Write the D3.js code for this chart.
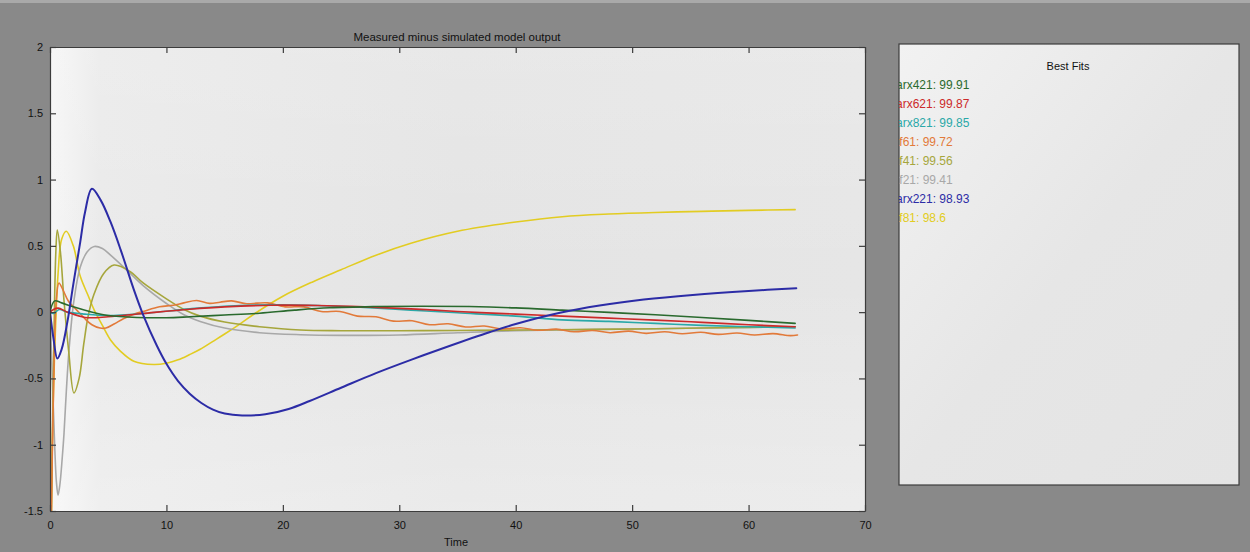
<!DOCTYPE html>
<html>
<head>
<meta charset="utf-8">
<script src="https://cdn.jsdelivr.net/npm/d3@7"></script>
<style>
  html, body { margin: 0; padding: 0; background: #8a8a8a; }
  svg { display: block; }
  text { font-family: "Liberation Sans", Arial, Helvetica, sans-serif; }
</style>
</head>
<body>
<svg id="chart" width="1250" height="552"></svg>
<script>
// ---- axis ticks ----
const xTicks = [0, 10, 20, 30, 40, 50, 60, 70];
const yTicks = [-1.5, -1, -0.5, 0, 0.5, 1, 1.5, 2];

// ---- model names and fit percentages (legend order) ----
const modelNames = ["arx421", "arx621", "arx821", "tf61", "tf41", "tf21", "arx221", "tf81"];
const fitValues  = [99.91, 99.87, 99.85, 99.72, 99.56, 99.41, 98.93, 98.6];
const modelColors = ["#2a6a2e", "#cc2a2a", "#2aa8a8", "#e27a3a", "#a6a63c", "#a8a8a8", "#2c2ca6", "#e2cc22"];

// ---- residual traces: time and value per model ----
const tArx421 = [0, 0.4, 1, 2, 3.4, 5, 7.5, 10, 12, 15, 18, 21, 24, 28, 32, 36, 40, 44, 48, 52, 56, 60, 64];
const vArx421 = [0, 0.085, 0.07, 0.04, 0.005, -0.025, -0.04, -0.042, -0.035, -0.022, -0.008, 0.015, 0.033, 0.042, 0.045, 0.042, 0.032, 0.015, -0.002, -0.02, -0.04, -0.062, -0.085];

const tArx621 = [0, 0.3, 0.7, 1.5, 3, 5, 8, 12, 15, 19, 23, 27, 31, 35, 40, 44, 48, 52, 56, 60, 64];
const vArx621 = [0, 0.02, 0.03, 0.0, -0.04, -0.035, -0.01, 0.022, 0.04, 0.052, 0.05, 0.04, 0.025, 0.005, -0.015, -0.03, -0.045, -0.06, -0.077, -0.095, -0.11];

const tArx821 = [0, 0.3, 0.8, 1.5, 3, 5, 8, 12, 15, 19, 23, 27, 31, 35, 40, 44, 48, 52, 56, 60, 64];
const vArx821 = [0, -0.01, 0.02, 0.0, -0.015, -0.025, -0.01, 0.025, 0.045, 0.055, 0.05, 0.035, 0.015, -0.005, -0.03, -0.058, -0.07, -0.085, -0.1, -0.11, -0.12];

const tTf61 = [0.12, 0.3, 0.55, 0.77, 1.1, 1.6, 2.3, 3, 3.6, 4.3, 4.8, 5.5, 6.3, 7.2, 8, 9.4, 10.6, 11.5, 12.6, 13.7, 14.6, 15.6, 16.9, 17.8, 18.7, 20.2, 21.8, 23.3, 24.9, 26.4, 28, 29.5, 31.1, 32.6, 34.2, 35.7, 37.3, 38.8, 40.4, 41.9, 43.5, 45, 46.6, 48.1, 49.7, 51.2, 52.8, 54.3, 55.9, 57.4, 59, 60.5, 62.1, 63.6, 64.2];
const vTf61 = [-1.5, -0.6, 0.1, 0.22, 0.17, 0.08, 0.015, -0.05, -0.095, -0.12, -0.12, -0.09, -0.05, -0.015, 0.005, 0.04, 0.052, 0.07, 0.088, 0.066, 0.075, 0.085, 0.063, 0.068, 0.07, 0.04, 0.04, 0.005, 0.005, -0.03, -0.035, -0.068, -0.065, -0.095, -0.088, -0.112, -0.105, -0.127, -0.118, -0.137, -0.128, -0.148, -0.138, -0.155, -0.143, -0.16, -0.148, -0.163, -0.152, -0.168, -0.157, -0.172, -0.162, -0.177, -0.172];

const tTf41 = [0.12, 0.3, 0.5, 0.63, 0.9, 1.2, 1.6, 2.06, 2.5, 2.9, 3.3, 3.8, 4.6, 5.5, 6.9, 8, 10, 11.5, 12.9, 15, 18, 21.5, 25, 30, 35, 40, 47, 52, 56, 60, 64];
const vTf41 = [-1.5, -0.4, 0.45, 0.62, 0.45, 0.09, -0.29, -0.61, -0.5, -0.24, -0.02, 0.14, 0.29, 0.355, 0.305, 0.22, 0.1, 0.02, -0.03, -0.075, -0.11, -0.135, -0.14, -0.14, -0.138, -0.135, -0.13, -0.125, -0.12, -0.115, -0.11];

const tTf21 = [0, 0.2, 0.4, 0.55, 0.69, 0.85, 1.05, 1.2, 1.4, 1.63, 2.06, 2.6, 3.2, 3.8, 4.5, 5.2, 6.6, 8, 10, 11.5, 12.9, 15, 18, 21.5, 25, 30, 35, 40, 47, 52, 56, 60, 64];
const vTf21 = [0, -0.5, -1.0, -1.28, -1.38, -1.3, -1.1, -0.92, -0.6, -0.29, 0.09, 0.34, 0.455, 0.495, 0.48, 0.43, 0.317, 0.2, 0.065, -0.02, -0.07, -0.12, -0.155, -0.17, -0.175, -0.172, -0.155, -0.14, -0.13, -0.125, -0.12, -0.115, -0.11];

const tArx221 = [0, 0.3, 0.63, 1.0, 1.5, 2, 2.6, 3.0, 3.6, 4.35, 5.2, 6.07, 7.2, 8, 9.16, 10, 11, 12, 13, 14, 15, 16.5, 18.5, 20.5, 22.3, 25, 28, 31, 34, 37.8, 40, 43.8, 47.2, 51, 55.2, 60, 64.1];
const vArx221 = [0, -0.2, -0.35, -0.28, -0.07, 0.21, 0.53, 0.75, 0.93, 0.845, 0.68, 0.47, 0.17, -0.02, -0.25, -0.39, -0.52, -0.615, -0.685, -0.735, -0.765, -0.78, -0.77, -0.73, -0.67, -0.57, -0.46, -0.36, -0.265, -0.15, -0.09, -0.005, 0.05, 0.095, 0.13, 0.16, 0.18];

const tTf81 = [0.12, 0.3, 0.7, 1.0, 1.4, 2, 2.6, 3.3, 3.8, 4.5, 5.2, 6, 7.2, 8.9, 10, 11, 12, 12.9, 14, 15, 16.3, 17.6, 20, 22.6, 25, 28, 31, 35, 40, 44, 48, 52, 56, 60, 64];
const vTf81 = [-1.5, -0.6, 0.3, 0.55, 0.61, 0.5, 0.27, 0.12, 0.015, -0.1, -0.21, -0.29, -0.37, -0.395, -0.385, -0.36, -0.32, -0.28, -0.22, -0.165, -0.09, -0.01, 0.12, 0.23, 0.32, 0.43, 0.52, 0.61, 0.68, 0.72, 0.74, 0.752, 0.76, 0.768, 0.773];

const seriesTimes  = [tArx421, tArx621, tArx821, tTf61, tTf41, tTf21, tArx221, tTf81];
const seriesValues = [vArx421, vArx621, vArx821, vTf61, vTf41, vTf21, vArx221, vTf81];

// ---- layout ----
const plot = { left: 50, right: 865, top: 47, bottom: 511 };
const panel = { left: 899, right: 1239, top: 44, bottom: 485 };

const svg = d3.select("#chart");
const defs = svg.append("defs");

// soft lighting across the plot and legend panels
const gH = defs.append("linearGradient").attr("id", "plotFill").attr("x1", 0).attr("x2", 1).attr("y1", 0).attr("y2", 0);
gH.append("stop").attr("offset", "0").attr("stop-color", "#f6f6f6");
gH.append("stop").attr("offset", "0.06").attr("stop-color", "#eaeaea");
gH.append("stop").attr("offset", "0.5").attr("stop-color", "#e4e4e4");
gH.append("stop").attr("offset", "1").attr("stop-color", "#e6e6e6");

const gV = defs.append("linearGradient").attr("id", "plotShade").attr("x1", 0).attr("x2", 0).attr("y1", 0).attr("y2", 1);
gV.append("stop").attr("offset", "0").attr("stop-color", "#ffffff").attr("stop-opacity", 0.15);
gV.append("stop").attr("offset", "0.5").attr("stop-color", "#ffffff").attr("stop-opacity", 0);
gV.append("stop").attr("offset", "1").attr("stop-color", "#ffffff").attr("stop-opacity", 0.25);

const gP = defs.append("linearGradient").attr("id", "panelFill").attr("x1", 0).attr("x2", 1).attr("y1", 0).attr("y2", 1);
gP.append("stop").attr("offset", "0").attr("stop-color", "#f2f2f2");
gP.append("stop").attr("offset", "0.5").attr("stop-color", "#e6e6e6");
gP.append("stop").attr("offset", "1").attr("stop-color", "#e4e4e4");

defs.append("clipPath").attr("id", "plotClip")
  .append("rect").attr("x", plot.left).attr("y", plot.top)
  .attr("width", plot.right - plot.left).attr("height", plot.bottom - plot.top);

defs.append("clipPath").attr("id", "panelClip")
  .append("rect").attr("x", panel.left).attr("y", panel.top)
  .attr("width", panel.right - panel.left).attr("height", panel.bottom - panel.top);

// outer window background
svg.append("rect").attr("width", 1250).attr("height", 552).attr("fill", "#898989");
svg.append("rect").attr("width", 1250).attr("height", 3).attr("fill", "#a9a9a9");

// plot area
svg.append("rect").attr("x", plot.left).attr("y", plot.top)
  .attr("width", plot.right - plot.left).attr("height", plot.bottom - plot.top)
  .attr("fill", "url(#plotFill)");
svg.append("rect").attr("x", plot.left).attr("y", plot.top)
  .attr("width", plot.right - plot.left).attr("height", plot.bottom - plot.top)
  .attr("fill", "url(#plotShade)");

const x = d3.scaleLinear().domain([0, 70]).range([plot.left, plot.right]);
const y = d3.scaleLinear().domain([-1.5, 2]).range([plot.bottom, plot.top]);

const line = d3.line()
  .x(d => x(d[0]))
  .y(d => y(d[1]))
  .curve(d3.curveCatmullRom.alpha(0.5));

// draw order: yellow underneath, blue on top
const drawOrder = [7, 5, 4, 3, 2, 1, 0, 6];
const lines = svg.append("g").attr("clip-path", "url(#plotClip)");
drawOrder.forEach(i => {
  const pts = seriesTimes[i].map((t, k) => [t, seriesValues[i][k]]);
  lines.append("path")
    .attr("d", line(pts))
    .attr("fill", "none")
    .attr("stroke", modelColors[i])
    .attr("stroke-width", i === 6 ? 2 : 1.6)
    .attr("stroke-linejoin", "round")
    .attr("stroke-linecap", "round");
});

// axes: ticks point inward on all four sides
const axisStyle = g => {
  g.select(".domain").attr("stroke", "#3c3c3c").attr("stroke-width", 1.2);
  g.selectAll(".tick line").attr("stroke", "#3c3c3c").attr("stroke-width", 1.2);
  g.selectAll(".tick text").attr("fill", "#111").attr("font-size", 11);
};

svg.append("g").attr("transform", `translate(0,${plot.bottom})`)
  .call(d3.axisBottom(x).tickValues(xTicks).tickFormat(d => String(d)).tickSizeInner(-6).tickSizeOuter(0).tickPadding(10))
  .call(axisStyle);
svg.append("g").attr("transform", `translate(0,${plot.top})`)
  .call(d3.axisTop(x).tickValues(xTicks).tickFormat("").tickSizeInner(-6).tickSizeOuter(0))
  .call(axisStyle);
svg.append("g").attr("transform", `translate(${plot.left},0)`)
  .call(d3.axisLeft(y).tickValues(yTicks).tickFormat(d => String(d)).tickSizeInner(-6).tickSizeOuter(0).tickPadding(7))
  .call(axisStyle);
svg.append("g").attr("transform", `translate(${plot.right},0)`)
  .call(d3.axisRight(y).tickValues(yTicks).tickFormat("").tickSizeInner(-6).tickSizeOuter(0))
  .call(axisStyle);

// titles
svg.append("text").attr("x", 457).attr("y", 41).attr("text-anchor", "middle")
  .attr("font-size", 11.5).attr("fill", "#111").text("Measured minus simulated model output");
svg.append("text").attr("x", 456).attr("y", 546).attr("text-anchor", "middle")
  .attr("font-size", 11).attr("fill", "#111").text("Time");

// legend panel
svg.append("rect").attr("x", panel.left).attr("y", panel.top)
  .attr("width", panel.right - panel.left).attr("height", panel.bottom - panel.top)
  .attr("fill", "url(#panelFill)").attr("stroke", "#3c3c3c").attr("stroke-width", 1.2);
svg.append("text").attr("x", 1068).attr("y", 70).attr("text-anchor", "middle")
  .attr("font-size", 11).attr("fill", "#111").text("Best Fits");

const legend = svg.append("g").attr("clip-path", "url(#panelClip)");
modelNames.forEach((name, i) => {
  legend.append("text")
    .attr("x", 896)
    .attr("y", 89 + i * 19)
    .attr("font-size", 12)
    .attr("fill", modelColors[i])
    .text(name + ": " + fitValues[i]);
});
</script>
</body>
</html>
